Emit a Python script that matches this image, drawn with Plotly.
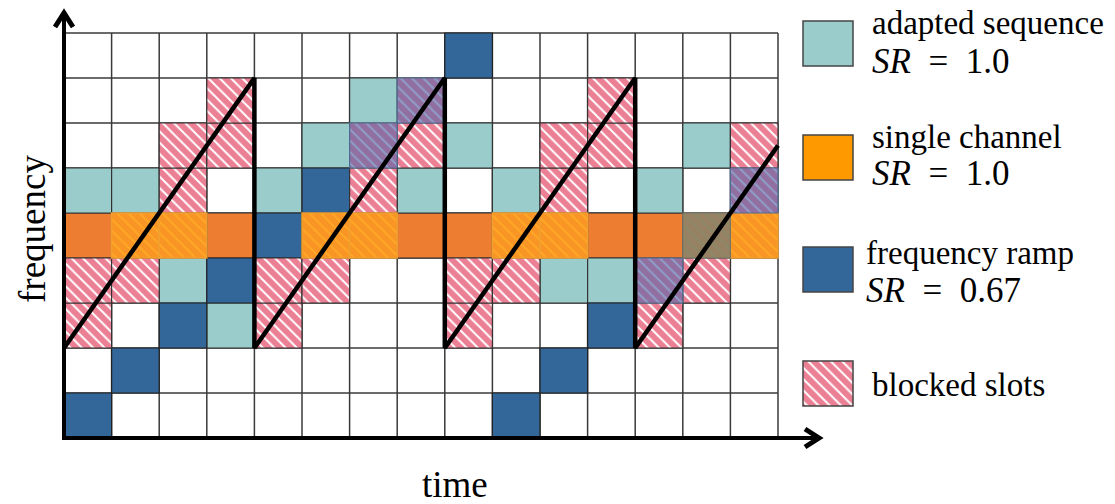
import plotly.graph_objects as go

# ---------------- data ----------------
n_cols = 15          # time slots
n_rows = 9           # frequency channels
time_slots = list(range(n_cols))

# frequency ramp: channel used in each time slot
ramp_rows = [0, 1, 2, 3, 4, 5, 6, 7, 8, 0, 1, 2, 3, 4, 5]
# adapted sequence: channel used in each time slot (last slot hidden)
adapted_cols = [0, 1, 2, 3, 4, 5, 6, 7, 8, 9, 10, 11, 12, 13]
adapted_rows = [5, 5, 3, 2, 5, 6, 7, 5, 6, 5, 3, 3, 5, 6]
# single channel
single_row = 4
# blocked slots (interferer sweep) per time slot
blocked_rows = [[2, 3], [3, 4], [4, 5, 6], [6, 7],
                [2, 3], [3, 4], [4, 5, 6], [6, 7],
                [2, 3], [3, 4], [4, 5, 6], [6, 7],
                [2, 3], [3, 4], [4, 5, 6]]
# interferer sweep line (time, frequency)
sweep_t = [0, 4, 4, 8, 8, 12, 12, 15]
sweep_f = [2, 8, 2, 8, 2, 8, 2, 6.5]

SR_SP = "&nbsp;&nbsp;"
legend_labels = [["adapted sequence", f"<i>SR</i>{SR_SP}={SR_SP}1.0"],
                 ["single channel", f"<i>SR</i>{SR_SP}={SR_SP}1.0"],
                 ["frequency ramp", f"<i>SR</i>{SR_SP}={SR_SP}0.67"],
                 ["blocked slots"]]
x_label = "time"
y_label = "frequency"

# ---------------- styles ----------------
TEAL = "#9BCCCC"
BLUE = "#336699"
ORANGE_CELL = "#ED7D31"
ORANGE_LEG = "#FF9900"
RED = "#D8002A"
FONT = "Liberation Serif"

W, H = 1115, 504
X0, CW = 64.0, 47.6      # pixel of t=0, pixels per slot
Y0, RH = 438.0, 45.0     # pixel of f=0, pixels per channel


def dx(px):
    return (px - X0) / CW


def dy(py):
    return (Y0 - py) / RH


# ---------------- classify cells ----------------
ramp = {(c, r) for c, r in zip(time_slots, ramp_rows)}
adapted = {(c, r) for c, r in zip(adapted_cols, adapted_rows)}
single = {(c, single_row) for c in time_slots}
blocked = {(c, r) for c, rows in zip(time_slots, blocked_rows) for r in rows}

styles = {
    "brown": [], "purple": [], "orange_h": [], "blocked": [],
    "ramp": [], "adapted": [], "single": [],
}
for c in time_slots:
    for r in range(n_rows):
        cell = (c, r)
        b = cell in blocked
        if b and cell in ramp and cell in single:
            styles["brown"].append(cell)
        elif b and cell in ramp:
            styles["purple"].append(cell)
        elif b and cell in single:
            styles["orange_h"].append(cell)
        elif b:
            styles["blocked"].append(cell)
        elif cell in ramp:
            styles["ramp"].append(cell)
        elif cell in adapted:
            styles["adapted"].append(cell)
        elif cell in single:
            styles["single"].append(cell)

pat = dict(shape="\\", size=8, solidity=0.75)
looks = {
    "single": dict(color=ORANGE_CELL, line=dict(color="#333333", width=1.2)),
    "adapted": dict(color=TEAL, line=dict(color="#333333", width=1.2)),
    "ramp": dict(color=BLUE, line=dict(color="#222222", width=1.2)),
    "blocked": dict(color="white", line=dict(color="#333333", width=1.2),
                    pattern=dict(pat, fgcolor=RED, bgcolor="white")),
    "orange_h": dict(color="#FFA726", line=dict(color="#F0A030", width=1.5),
                     pattern=dict(pat, fgcolor="#F28322", bgcolor="#FFA726")),
    "purple": dict(color="#8E9FC8", line=dict(color="#4E6A92", width=1.2),
                   pattern=dict(pat, fgcolor="#93407A", bgcolor="#8E9FC8")),
    "brown": dict(color="#8C8867", line=dict(color="#777766", width=1.2),
                  pattern=dict(pat, fgcolor="#A07A60", bgcolor="#8C8867")),
}

fig = go.Figure()

# grid lines (below cells)
shapes = []
for r in range(n_rows + 1):
    shapes.append(dict(type="line", xref="x", yref="y", x0=0, x1=n_cols, y0=r, y1=r,
                       line=dict(color="#3a3a3a", width=1.5), layer="below"))
for c in range(n_cols + 1):
    shapes.append(dict(type="line", xref="x", yref="y", x0=c, x1=c, y0=0, y1=n_rows,
                       line=dict(color="#3a3a3a", width=1.5), layer="below"))

for key in ["single", "adapted", "ramp", "blocked", "orange_h", "purple", "brown"]:
    cells = styles[key]
    if not cells:
        continue
    fig.add_trace(go.Bar(
        x=[c + 0.5 for c, r in cells],
        y=[1] * len(cells),
        base=[r for c, r in cells],
        width=1,
        marker=looks[key],
        showlegend=False,
        hoverinfo="skip",
    ))

# sweep line
fig.add_trace(go.Scatter(x=sweep_t, y=sweep_f, mode="lines",
                         line=dict(color="black", width=4.5),
                         showlegend=False, hoverinfo="skip"))

# legend swatches (as bars placed in the legend area)
sw_x0, sw_x1 = 803, 853
sw_tops = [21, 135, 247, 361]
sw_h = 45
sw_looks = [
    dict(color=TEAL, line=dict(color="#444444", width=1.5)),
    dict(color=ORANGE_LEG, line=dict(color="#444444", width=1.5)),
    dict(color=BLUE, line=dict(color="#444444", width=1.5)),
    dict(color="white", line=dict(color="#444444", width=1.5),
         pattern=dict(pat, fgcolor=RED, bgcolor="white")),
]
for top, lk in zip(sw_tops, sw_looks):
    fig.add_trace(go.Bar(
        x=[(dx(sw_x0) + dx(sw_x1)) / 2], y=[dy(top) - dy(top + sw_h)],
        base=[dy(top + sw_h)], width=dx(sw_x1) - dx(sw_x0),
        marker=lk, showlegend=False, hoverinfo="skip"))

# legend texts
annotations = []
text_rows = [(870, [34, 72]), (870, [148, 184]), (864, [264, 301]), (870, [396])]
for (tx, baselines), lines in zip(text_rows, legend_labels):
    for i, (bl, txt) in enumerate(zip(baselines, lines)):
        size = 33 if i == 0 else 35
        annotations.append(dict(
            x=tx / W, y=1 - (bl - 11) / H, xref="paper", yref="paper",
            text=txt, showarrow=False, xanchor="left", yanchor="middle",
            font=dict(family=FONT, size=size, color="black")))

# axis labels
annotations.append(dict(x=455 / W, y=1 - 484 / H, xref="paper", yref="paper",
                        text=x_label, showarrow=False, xanchor="center", yanchor="middle",
                        font=dict(family=FONT, size=37, color="black")))
annotations.append(dict(x=33 / W, y=1 - 229 / H, xref="paper", yref="paper",
                        text=y_label, showarrow=False, xanchor="center", yanchor="middle",
                        textangle=-90,
                        font=dict(family=FONT, size=37, color="black")))


def P(px, py):
    return f"{px / W:.5f},{1 - py / H:.5f}"


# axes with arrows (paper coords)
shapes.append(dict(type="line", xref="paper", yref="paper",
                   x0=64 / W, x1=64 / W, y0=1 - 440 / H, y1=1 - 14 / H,
                   line=dict(color="black", width=4)))
shapes.append(dict(type="line", xref="paper", yref="paper",
                   x0=62 / W, x1=818 / W, y0=1 - 438 / H, y1=1 - 438 / H,
                   line=dict(color="black", width=4)))
shapes.append(dict(type="path", xref="paper", yref="paper",
                   path=f"M {P(55, 27)} L {P(64, 13)} L {P(73, 27)}",
                   line=dict(color="black", width=5)))
shapes.append(dict(type="path", xref="paper", yref="paper",
                   path=f"M {P(805, 429)} L {P(819, 438)} L {P(805, 447)}",
                   line=dict(color="black", width=5)))

fig.update_layout(
    width=W, height=H,
    margin=dict(l=0, r=0, t=0, b=0),
    paper_bgcolor="white", plot_bgcolor="white",
    barmode="overlay", bargap=0,
    xaxis=dict(range=[dx(0), dx(W)], visible=False, fixedrange=True),
    yaxis=dict(range=[dy(H), dy(0)], visible=False, fixedrange=True),
    shapes=shapes, annotations=annotations,
    showlegend=False,
)

fig.write_html("out.html",
               config={"displayModeBar": False, "staticPlot": True},
               post_script="document.body.style.margin='0px';document.body.style.overflow='hidden';")
